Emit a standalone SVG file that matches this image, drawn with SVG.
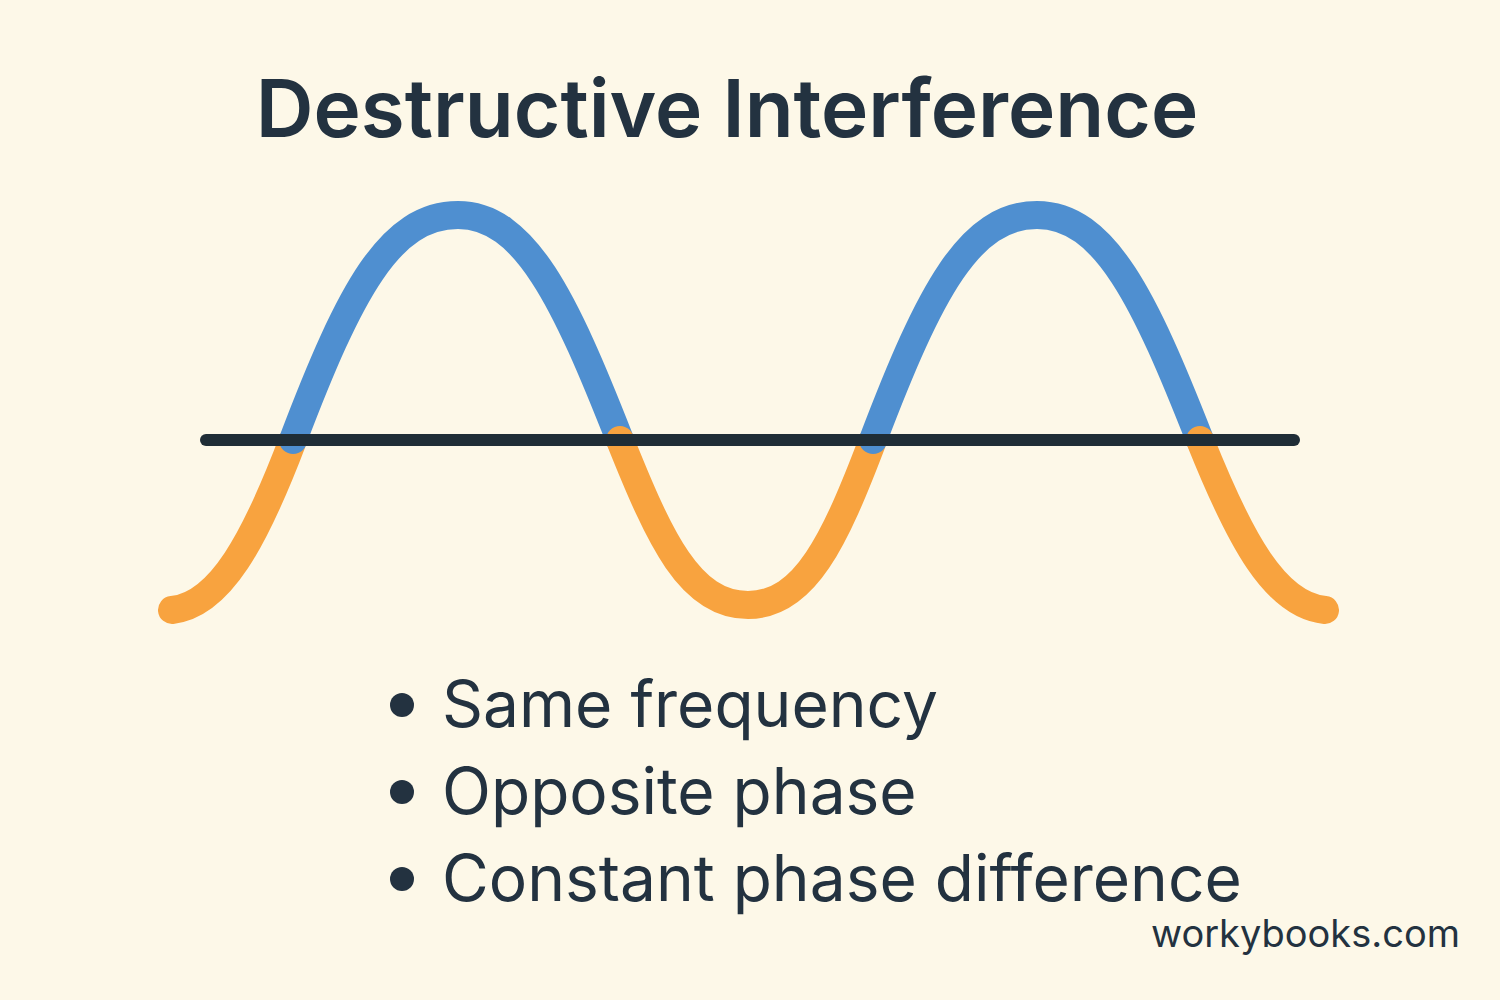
<svg xmlns="http://www.w3.org/2000/svg" width="1500" height="1000" viewBox="0 0 1500 1000">
<style>
.w{fill:none;stroke-width:28;stroke-linecap:round}
.b{stroke:#4F8FD0}.o{stroke:#F8A33F}
.t{font-family:"Inter","Liberation Sans",sans-serif;fill:#233240}
</style>
<rect width="1500" height="1000" fill="#FDF8E8"/>
<text class="t" x="727" y="137" font-size="80" font-weight="600" text-anchor="middle">Destructive Interference</text>
<g id="wave">
<path class="w o" d="M172,610 C220,605 255,540 293,440"/>
<path class="w b" d="M293,440 C350,290 390,215 458,215 C525,215 565,300 620,440"/>
<path class="w o" d="M620,440 C660,540 690,605 748,605 C805,605 835,540 873,440"/>
<path class="w b" d="M873,440 C930,290 970,215 1037,215 C1105,215 1145,300 1200,440"/>
<path class="w o" d="M1200,440 C1240,540 1275,605 1325,610"/>
</g>
<line x1="206" y1="440" x2="1294" y2="440" stroke="#1F2D36" stroke-width="12" stroke-linecap="round"/>
<g id="bullets">
<circle cx="402" cy="705" r="12" fill="#233240"/>
<circle cx="402" cy="792" r="12" fill="#233240"/>
<circle cx="402" cy="879" r="12" fill="#233240"/>
<text class="t" x="442" y="727" font-size="64">Same frequency</text>
<text class="t" x="442" y="814" font-size="64">Opposite phase</text>
<text class="t" x="442" y="901" font-size="64">Constant phase difference</text>
</g>
<text class="t" x="1460" y="947" font-size="38" text-anchor="end">workybooks.com</text>
</svg>
